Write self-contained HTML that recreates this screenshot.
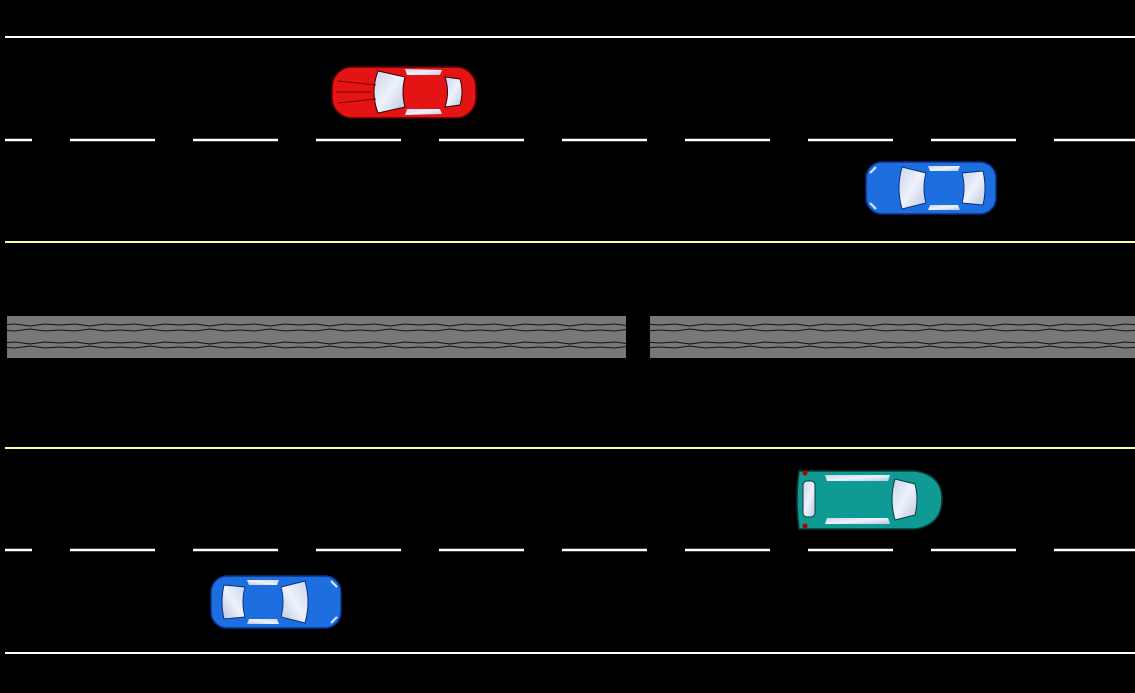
<!DOCTYPE html>
<html><head><style>html,body{margin:0;padding:0;background:#000;width:1135px;height:693px;overflow:hidden}</style></head>
<body>
<svg width="1135" height="693" viewBox="0 0 1135 693" xmlns="http://www.w3.org/2000/svg">
<rect width="1135" height="693" fill="#000"/>
<defs>
<pattern id="waves" x="0" y="0" width="60" height="42" patternUnits="userSpaceOnUse">
<path d="M0 7 L15 6 L30 8 L45 6 L60 7" stroke="#111" stroke-width="1" fill="none"/>
<path d="M0 11 L15 12 L30 10 L45 12 L60 11" stroke="#111" stroke-width="1" fill="none"/>
<path d="M0 31 L15 30 L30 32 L45 30 L60 31" stroke="#111" stroke-width="1" fill="none"/>
<path d="M0 36 L15 37 L30 35 L45 37 L60 36" stroke="#111" stroke-width="1" fill="none"/>
</pattern>
<linearGradient id="gl" x1="0" y1="0" x2="1" y2="1"><stop offset="0" stop-color="#c8d4ec"/><stop offset="0.5" stop-color="#eef2fb"/><stop offset="1" stop-color="#b9c6e2"/></linearGradient>
</defs>
<line x1="5" y1="37" x2="1135" y2="37" stroke="#fff" stroke-width="2"/>
<line x1="5" y1="653" x2="1135" y2="653" stroke="#fff" stroke-width="2"/>
<line x1="5" y1="242" x2="1135" y2="242" stroke="#ffff99" stroke-width="2"/>
<line x1="5" y1="448" x2="1135" y2="448" stroke="#ffff99" stroke-width="2"/>
<line x1="-53" y1="140" x2="1135" y2="140" stroke="#fff" stroke-width="2.5" stroke-dasharray="85 38"/>
<line x1="-53" y1="550" x2="1135" y2="550" stroke="#fff" stroke-width="2.5" stroke-dasharray="85 38"/>
<rect x="0" y="130" width="5" height="20" fill="#000"/>
<rect x="0" y="540" width="5" height="20" fill="#000"/>
<rect x="7" y="316" width="619" height="42" fill="#777"/>
<rect x="7" y="316" width="619" height="42" fill="url(#waves)"/>
<rect x="650" y="316" width="485" height="42" fill="#777"/>
<rect x="650" y="316" width="485" height="42" fill="url(#waves)"/>

<!-- red car (front left) -->
<g transform="translate(332,65)">
<rect x="0" y="2" width="144" height="51" rx="20" fill="#e41414" stroke="#5a0000" stroke-width="1.5"/>
<path d="M46 6 Q38 27 46 48 L73 42 Q69 27 73 12 Z" fill="url(#gl)" stroke="#300" stroke-width="1"/>
<path d="M113 12 Q118 27 113 42 L128 40 Q132 27 128 14 Z" fill="url(#gl)" stroke="#300" stroke-width="1"/>
<path d="M73 4 L110 5 L108 10 L75 10 Z" fill="url(#gl)"/>
<path d="M73 50 L110 49 L108 44 L75 44 Z" fill="url(#gl)"/>
<path d="M6 16 L44 20 M6 38 L44 34 M4 27 L40 27" stroke="#700" fill="none"/>
</g>

<g transform="translate(866,161)">
<rect x="0" y="1" width="130" height="52" rx="16" fill="#1d6fe0" stroke="#0b2f8a" stroke-width="1.5"/>
<path d="M36 6 Q30 27 36 48 L60 42 Q56 27 60 12 Z" fill="url(#gl)" stroke="#0b2f8a"/>
<path d="M96 12 Q100 27 96 42 L117 44 Q121 27 117 10 Z" fill="url(#gl)" stroke="#0b2f8a"/>
<path d="M62 5 L94 5 L92 10 L64 10 Z" fill="url(#gl)"/>
<path d="M62 49 L94 49 L92 44 L64 44 Z" fill="url(#gl)"/>
<path d="M4 12 L10 6 M4 42 L10 48" stroke="#e0e8ff" stroke-width="2"/>
</g>

<g transform="translate(341,575) scale(-1,1)">
<rect x="0" y="1" width="130" height="52" rx="16" fill="#1d6fe0" stroke="#0b2f8a" stroke-width="1.5"/>
<path d="M36 6 Q30 27 36 48 L60 42 Q56 27 60 12 Z" fill="url(#gl)" stroke="#0b2f8a"/>
<path d="M96 12 Q100 27 96 42 L117 44 Q121 27 117 10 Z" fill="url(#gl)" stroke="#0b2f8a"/>
<path d="M62 5 L94 5 L92 10 L64 10 Z" fill="url(#gl)"/>
<path d="M62 49 L94 49 L92 44 L64 44 Z" fill="url(#gl)"/>
<path d="M4 12 L10 6 M4 42 L10 48" stroke="#e0e8ff" stroke-width="2"/>
</g>

<g transform="translate(795,469)">
<path d="M4 2 L120 2 Q147 6 147 30 Q147 56 120 60 L4 60 Q0 30 4 2 Z" fill="#109a94" stroke="#0a3a3a" stroke-width="1.5"/>
<rect x="8" y="12" width="12" height="36" rx="4" fill="url(#gl)" stroke="#0a3a3a"/>
<path d="M100 10 Q94 30 100 51 L120 46 Q124 30 120 15 Z" fill="url(#gl)" stroke="#0a3a3a"/>
<path d="M30 6 L95 6 L93 12 L32 12 Z" fill="url(#gl)"/>
<path d="M30 55 L95 55 L93 49 L32 49 Z" fill="url(#gl)"/>
<circle cx="10" cy="4" r="2.5" fill="#a00"/><circle cx="10" cy="57" r="2.5" fill="#a00"/>
</g>
</svg>
</body></html>
